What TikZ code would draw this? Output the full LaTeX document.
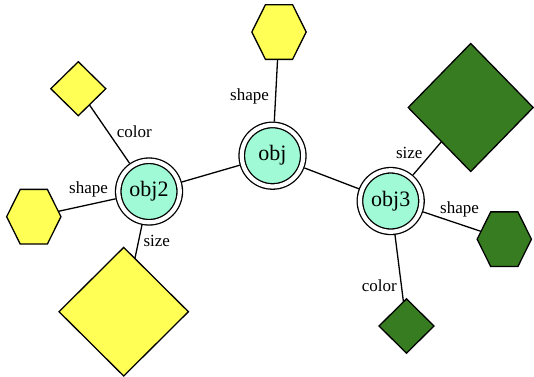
\documentclass[tikz,border=0pt]{standalone}
\usepackage{fontspec}
\setmainfont{Liberation Serif}
\usetikzlibrary{shapes.geometric}
\definecolor{objfill}{HTML}{A0FAD6}
\definecolor{yel}{HTML}{FFFF55}
\definecolor{grn}{HTML}{387C22}
\begin{document}
\begin{tikzpicture}[x=1pt,y=-1pt,
  objnode/.style={circle, draw, line width=1.3pt, double=white, double distance=4.2pt,
    fill=objfill, minimum size=61.5pt, inner sep=0pt, outer sep=3.4pt,
    font=\fontsize{22}{25}\selectfont},
  hexa/.style={regular polygon, regular polygon sides=6, draw, line width=1.3pt,
    minimum size=54.3pt, inner sep=0pt, outer sep=0pt, transform shape},
  dia/.style={diamond, draw, line width=1.3pt, inner sep=0pt, outer sep=0pt},
  lbl/.style={font=\fontsize{17}{20}\selectfont, inner sep=0pt},
  edge/.style={line width=1.3pt}
]
\useasboundingbox (0,0) rectangle (534,376);

% central objects
\node[objnode] (obj)  at (272.5,155.7) {obj};
\node[objnode] (obj2) at (149,191.5) {obj2};
\node[objnode] (obj3) at (390.7,201) {obj3};

% hexagons (vertically stretched)
\begin{scope}[shift={(279,32)}, yscale=1.163]
  \node[hexa, fill=yel] (hexT) at (0,0) {};
\end{scope}
\begin{scope}[shift={(33.8,216.7)}, yscale=1.163]
  \node[hexa, fill=yel] (hexL) at (0,0) {};
\end{scope}
\begin{scope}[shift={(504.3,239.2)}, yscale=1.163]
  \node[hexa, fill=grn] (hexR) at (0,0) {};
\end{scope}

% diamonds
\node[dia, fill=yel, minimum width=55pt, minimum height=54pt] (dSY) at (78.3,88.7) {};
\node[dia, fill=yel, minimum width=129.4pt, minimum height=128.6pt] (dBY) at (123.7,311.7) {};
\node[dia, fill=grn, minimum width=125pt, minimum height=128pt] (dBG) at (470.7,107.5) {};
\node[dia, fill=grn, minimum width=55pt, minimum height=54.3pt] (dSG) at (406.5,326) {};

% connectors
\draw[edge] (obj) -- (hexT);
\draw[edge] (obj) -- (obj2);
\draw[edge] (obj) -- (obj3);
\draw[edge] (obj2) -- (dSY);
\draw[edge] (obj2) -- (hexL);
\draw[edge] (obj2) -- (dBY);
\draw[edge] (obj3) -- (dBG);
\draw[edge] (obj3) -- (hexR);
\draw[edge] (obj3) -- (dSG);

% labels
\node[lbl, anchor=base west] (l1) at (230,100) {shape};
\node[lbl, anchor=base west] (l2) at (116.7,137.3) {color};
\node[lbl, anchor=base west] (l3) at (69,193.3) {shape};
\node[lbl, anchor=base west] (l4) at (143.3,246.7) {size};
\node[lbl, anchor=base east] (l5) at (422.7,158.5) {size};
\node[lbl, anchor=base west] (l6) at (440,213.3) {shape};
\node[lbl, anchor=base west] (l7) at (361.7,291.7) {color};
\end{tikzpicture}
\end{document}
